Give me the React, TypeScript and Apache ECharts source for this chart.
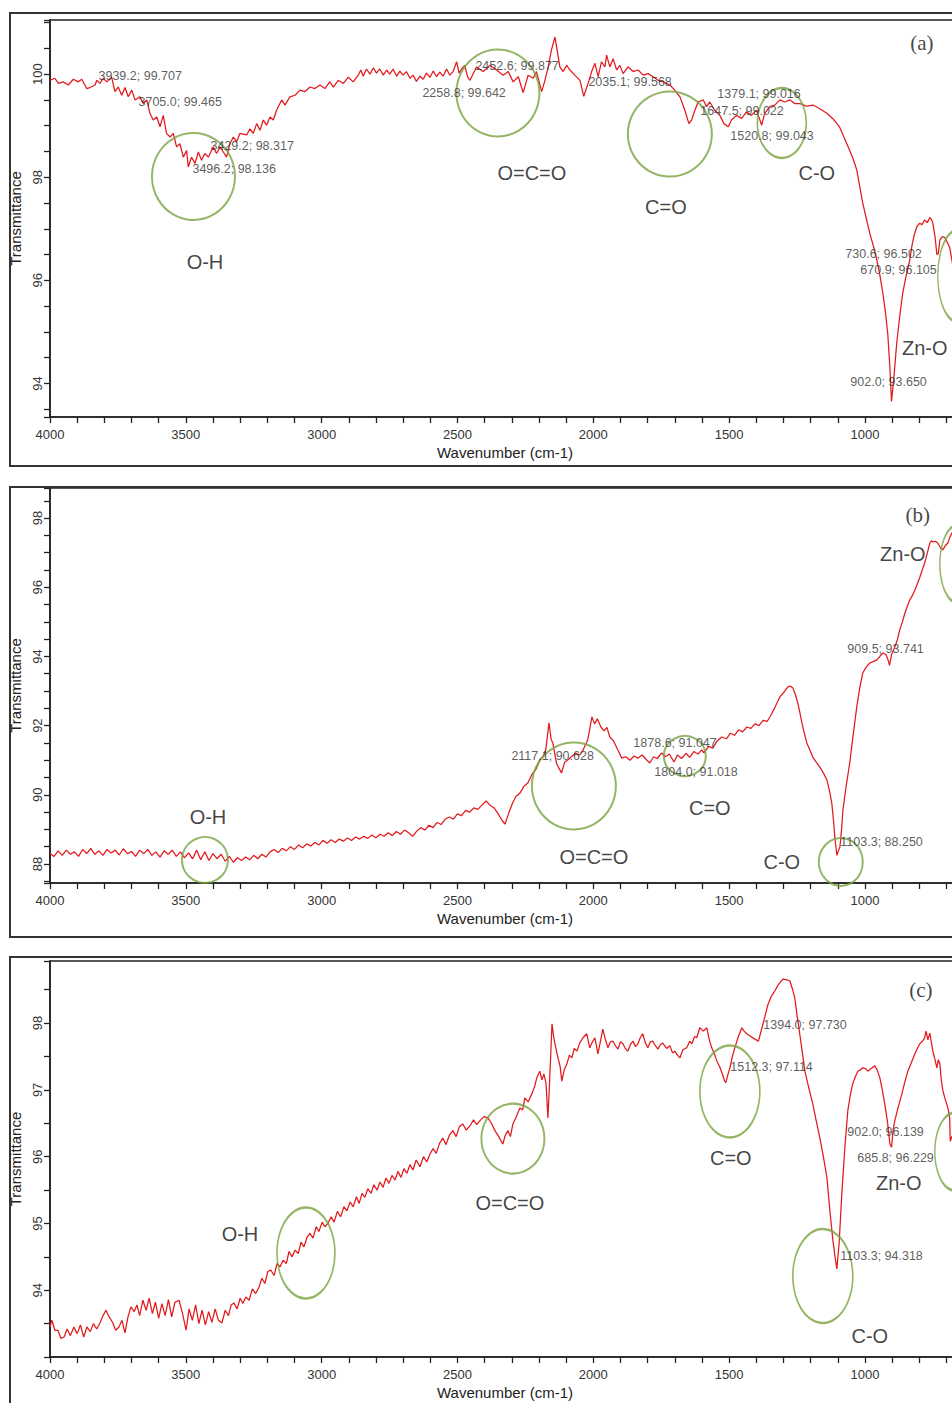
import React, { useEffect, useRef } from "react";
import * as echarts from "echarts";

// ---------- data: [wavenumber (cm-1), transmittance (%)] ----------
const spectrumA: number[][] = [
  [4000, 99.88], [3982, 99.92], [3969, 99.82], [3951, 99.85], [3933, 99.79], [3914, 99.9], [3896, 99.85], [3883, 99.9],
  [3865, 99.72], [3853, 99.74], [3834, 99.79], [3828, 99.88], [3816, 99.82], [3804, 99.92], [3791, 99.85], [3773, 99.94],
  [3761, 99.66], [3749, 99.75], [3736, 99.59], [3724, 99.74], [3712, 99.56], [3699, 99.69], [3687, 99.5], [3669, 99.56],
  [3657, 99.43], [3644, 99.5], [3632, 99.24], [3620, 99.11], [3607, 99.17], [3595, 98.98], [3583, 99.2], [3571, 98.85],
  [3558, 98.78], [3546, 98.85], [3534, 98.59], [3522, 98.65], [3509, 98.39], [3497, 98.52], [3491, 98.2], [3479, 98.39],
  [3466, 98.27], [3454, 98.49], [3442, 98.33], [3430, 98.46], [3417, 98.39], [3399, 98.59], [3387, 98.46], [3374, 98.59],
  [3362, 98.49], [3350, 98.39], [3338, 98.65], [3325, 98.78], [3313, 98.69], [3301, 98.85], [3276, 98.82], [3264, 98.94],
  [3252, 98.85], [3239, 99.04], [3227, 98.91], [3215, 99.11], [3203, 99.01], [3190, 99.17], [3178, 99.11], [3166, 99.3],
  [3147, 99.5], [3135, 99.4], [3117, 99.56], [3098, 99.59], [3080, 99.69], [3062, 99.66], [3043, 99.75], [3025, 99.72],
  [3006, 99.79], [2988, 99.72], [2970, 99.85], [2957, 99.75], [2939, 99.88], [2920, 99.82], [2902, 99.94], [2884, 99.85],
  [2865, 99.98], [2856, 100.08], [2847, 99.96], [2835, 100.1], [2822, 100.0], [2810, 100.12], [2798, 100.02], [2786, 100.1],
  [2773, 99.98], [2761, 100.08], [2749, 100.0], [2737, 100.1], [2724, 99.96], [2712, 100.06], [2700, 99.98], [2688, 100.05],
  [2675, 99.92], [2663, 99.98], [2651, 99.86], [2638, 99.96], [2626, 99.9], [2614, 100.02], [2601, 99.94], [2589, 100.06],
  [2577, 99.95], [2565, 100.04], [2553, 99.96], [2540, 100.1], [2528, 99.98], [2516, 100.05], [2503, 100.24], [2494, 100.02],
  [2485, 100.1], [2473, 100.17], [2463, 99.95], [2454, 99.88], [2430, 100.14], [2405, 100.05], [2381, 100.17], [2356, 100.08],
  [2332, 99.98], [2313, 100.05], [2295, 99.85], [2276, 99.95], [2258, 99.64], [2240, 99.98], [2221, 99.92], [2209, 100.05],
  [2190, 99.66], [2178, 99.88], [2166, 100.14], [2154, 100.47], [2141, 100.72], [2135, 100.53], [2123, 100.14], [2111, 100.05],
  [2098, 100.17], [2086, 100.08], [2068, 99.98], [2049, 99.88], [2035, 99.57], [2019, 99.82], [2006, 100.05], [1994, 100.21],
  [1982, 99.95], [1970, 100.24], [1957, 100.14], [1951, 100.37], [1939, 100.14], [1927, 100.3], [1914, 100.08], [1902, 100.17],
  [1890, 100.01], [1872, 100.14], [1853, 100.05], [1835, 100.08], [1816, 99.98], [1798, 100.01], [1780, 99.95], [1761, 99.88],
  [1743, 99.85], [1718, 99.79], [1700, 99.69], [1681, 99.56], [1663, 99.3], [1648, 99.04], [1638, 99.11], [1626, 99.3],
  [1614, 99.46], [1595, 99.5], [1583, 99.37], [1571, 99.46], [1553, 99.3], [1534, 99.2], [1519, 99.04], [1503, 98.98],
  [1491, 99.11], [1473, 99.2], [1454, 99.14], [1436, 99.27], [1418, 99.2], [1399, 99.3], [1380, 99.01], [1369, 99.24],
  [1350, 99.37], [1332, 99.4], [1313, 99.5], [1295, 99.46], [1276, 99.5], [1258, 99.43], [1240, 99.43], [1215, 99.38],
  [1191, 99.4], [1166, 99.33], [1140, 99.24], [1115, 99.12], [1093, 98.97], [1075, 98.75], [1056, 98.52], [1043, 98.35],
  [1030, 98.14], [1020, 97.85], [1008, 97.5], [995, 97.2], [982, 96.91], [968, 96.65], [956, 96.39], [945, 96.1],
  [934, 95.75], [925, 95.4], [916, 94.97], [908, 94.3], [902, 93.65], [892, 94.2], [883, 94.78], [872, 95.3],
  [861, 95.75], [848, 96.1], [835, 96.39], [826, 96.7], [817, 96.91], [808, 97.05], [798, 97.11], [790, 97.08],
  [780, 97.17], [770, 97.12], [761, 97.22], [755, 97.18], [750, 97.11], [742, 96.85], [735, 96.5], [730, 96.52],
  [724, 96.78], [715, 96.85], [706, 96.83], [698, 96.75], [688, 96.64], [680, 96.4], [671, 96.1], [660, 96.2], [650, 96.35],
];

const spectrumB: number[][] = [
  [4000, 88.3], [3985, 88.22], [3970, 88.38], [3955, 88.25], [3940, 88.4], [3925, 88.28], [3910, 88.35], [3895, 88.22],
  [3880, 88.42], [3865, 88.3], [3850, 88.45], [3835, 88.28], [3820, 88.38], [3805, 88.25], [3790, 88.42], [3775, 88.32],
  [3760, 88.4], [3745, 88.26], [3730, 88.44], [3715, 88.3], [3700, 88.36], [3685, 88.22], [3670, 88.4], [3655, 88.3],
  [3640, 88.42], [3625, 88.25], [3610, 88.35], [3595, 88.2], [3580, 88.38], [3565, 88.28], [3550, 88.4], [3535, 88.22],
  [3520, 88.35], [3505, 88.18], [3490, 88.32], [3475, 88.15], [3460, 88.4], [3445, 88.12], [3430, 88.35], [3415, 88.1],
  [3400, 88.3], [3385, 88.15], [3370, 88.28], [3355, 88.08], [3340, 88.22], [3325, 88.05], [3310, 88.18], [3295, 88.1],
  [3280, 88.2], [3265, 88.12], [3250, 88.25], [3235, 88.15], [3220, 88.28], [3205, 88.2], [3190, 88.35], [3175, 88.42],
  [3160, 88.33], [3145, 88.45], [3130, 88.38], [3115, 88.5], [3100, 88.42], [3085, 88.55], [3070, 88.47], [3055, 88.58],
  [3040, 88.52], [3025, 88.62], [3010, 88.55], [2995, 88.68], [2980, 88.6], [2965, 88.7], [2950, 88.62], [2935, 88.72],
  [2920, 88.66], [2905, 88.75], [2890, 88.68], [2875, 88.78], [2860, 88.72], [2845, 88.8], [2830, 88.74], [2815, 88.84],
  [2800, 88.76], [2785, 88.86], [2770, 88.8], [2755, 88.9], [2740, 88.82], [2725, 88.94], [2710, 88.86], [2695, 88.98],
  [2680, 88.9], [2665, 88.8], [2650, 88.95], [2635, 89.05], [2620, 88.98], [2605, 89.12], [2590, 89.05], [2575, 89.2],
  [2560, 89.14], [2545, 89.3], [2530, 89.36], [2515, 89.3], [2500, 89.45], [2485, 89.4], [2470, 89.55], [2455, 89.5],
  [2440, 89.62], [2425, 89.58], [2410, 89.7], [2395, 89.82], [2380, 89.7], [2365, 89.62], [2350, 89.45], [2335, 89.25],
  [2325, 89.15], [2310, 89.5], [2295, 89.8], [2285, 89.95], [2270, 90.05], [2255, 90.25], [2241, 90.34], [2225, 90.6],
  [2210, 90.75], [2197, 91.01], [2185, 91.1], [2175, 91.3], [2163, 92.08], [2155, 91.6], [2149, 91.5], [2135, 90.9],
  [2125, 90.75], [2117, 90.63], [2105, 90.95], [2095, 91.0], [2082, 91.09], [2065, 91.2], [2050, 91.15], [2038, 91.29],
  [2020, 91.6], [2005, 92.25], [1995, 92.05], [1985, 92.2], [1972, 91.96], [1960, 91.85], [1950, 91.95], [1939, 91.67],
  [1925, 91.55], [1910, 91.3], [1895, 91.06], [1880, 91.1], [1865, 91.0], [1850, 91.12], [1836, 91.06], [1820, 91.15],
  [1805, 91.02], [1792, 90.92], [1778, 91.1], [1765, 91.05], [1748, 91.21], [1735, 91.1], [1720, 91.18], [1703, 90.95],
  [1690, 91.15], [1675, 91.05], [1659, 91.2], [1645, 91.08], [1630, 91.25], [1615, 91.18], [1600, 91.3], [1593, 91.21],
  [1575, 91.4], [1560, 91.35], [1545, 91.55], [1527, 91.67], [1510, 91.62], [1495, 91.78], [1480, 91.72], [1465, 91.88],
  [1450, 91.82], [1435, 91.96], [1420, 91.92], [1405, 92.05], [1390, 92.0], [1375, 92.15], [1360, 92.12], [1346, 92.3],
  [1330, 92.55], [1313, 92.83], [1300, 92.95], [1284, 93.12], [1274, 93.14], [1265, 93.09], [1256, 92.9], [1247, 92.65],
  [1240, 92.4], [1232, 92.08], [1222, 91.75], [1214, 91.5], [1203, 91.3], [1192, 91.09], [1180, 90.95], [1166, 90.8],
  [1152, 90.62], [1140, 90.43], [1130, 90.1], [1122, 89.76], [1115, 89.2], [1111, 88.78], [1103.3, 88.25], [1097, 88.4],
  [1092, 88.49], [1086, 89.0], [1081, 89.56], [1070, 90.2], [1056, 90.92], [1043, 91.75], [1030, 92.54], [1019, 93.1],
  [1008, 93.52], [995, 93.7], [982, 93.81], [970, 93.85], [956, 93.9], [945, 94.0], [934, 94.1], [922, 94.05],
  [915, 93.9], [909.5, 93.74], [902, 94.05], [890, 94.27], [880, 94.5], [872, 94.76], [862, 95.0], [853, 95.25],
  [844, 95.45], [835, 95.63], [826, 95.75], [816, 95.92], [807, 96.1], [798, 96.29], [789, 96.5], [780, 96.7],
  [770, 97.0], [761, 97.28], [755, 97.35], [750, 97.31], [741, 97.33], [732, 97.28], [722, 97.15], [713, 97.08],
  [704, 97.2], [695, 97.28], [687, 97.45], [680, 97.57], [670, 97.62], [660, 97.7],
];

const spectrumC: number[][] = [
  [4000, 93.45], [3993, 93.55], [3982, 93.4], [3971, 93.4], [3960, 93.28], [3948, 93.3], [3937, 93.42], [3925, 93.32],
  [3912, 93.45], [3900, 93.35], [3888, 93.48], [3876, 93.3], [3864, 93.45], [3852, 93.38], [3840, 93.5], [3828, 93.42],
  [3816, 93.51], [3805, 93.62], [3794, 93.7], [3782, 93.6], [3770, 93.52], [3758, 93.4], [3746, 93.45], [3735, 93.55],
  [3724, 93.36], [3713, 93.6], [3702, 93.75], [3690, 93.68], [3680, 93.78], [3670, 93.62], [3658, 93.85], [3646, 93.7],
  [3635, 93.88], [3623, 93.65], [3612, 93.82], [3600, 93.58], [3588, 93.8], [3576, 93.62], [3564, 93.86], [3552, 93.6],
  [3540, 93.82], [3525, 93.85], [3512, 93.65], [3499, 93.4], [3488, 93.72], [3476, 93.55], [3464, 93.78], [3452, 93.5],
  [3440, 93.7], [3428, 93.48], [3416, 93.68], [3404, 93.52], [3392, 93.72], [3380, 93.55], [3367, 93.51], [3355, 93.7],
  [3343, 93.62], [3333, 93.78], [3323, 93.81], [3311, 93.72], [3300, 93.88], [3290, 93.8], [3279, 93.9], [3267, 93.85],
  [3255, 94.02], [3243, 93.95], [3231, 94.04], [3220, 94.18], [3209, 94.1], [3198, 94.28], [3187, 94.3], [3175, 94.22],
  [3164, 94.4], [3153, 94.35], [3142, 94.45], [3130, 94.4], [3120, 94.58], [3109, 94.5], [3098, 94.6], [3086, 94.55],
  [3076, 94.72], [3065, 94.65], [3054, 94.79], [3043, 94.85], [3032, 94.78], [3020, 94.95], [3010, 94.88], [2998, 95.02],
  [2988, 94.95], [2977, 95.0], [2965, 95.1], [2954, 95.02], [2942, 95.18], [2930, 95.1], [2918, 95.25], [2907, 95.19],
  [2895, 95.32], [2884, 95.25], [2872, 95.4], [2862, 95.3], [2851, 95.45], [2841, 95.39], [2830, 95.52], [2818, 95.45],
  [2808, 95.58], [2796, 95.5], [2785, 95.62], [2774, 95.54], [2763, 95.68], [2752, 95.6], [2741, 95.72], [2730, 95.65],
  [2719, 95.78], [2708, 95.69], [2697, 95.82], [2686, 95.75], [2675, 95.88], [2664, 95.8], [2652, 95.95], [2638, 95.85],
  [2625, 96.0], [2613, 95.92], [2601, 96.04], [2590, 96.12], [2578, 96.05], [2566, 96.2], [2554, 96.28], [2542, 96.18],
  [2530, 96.32], [2517, 96.39], [2505, 96.3], [2493, 96.45], [2480, 96.49], [2468, 96.4], [2454, 96.46], [2441, 96.55],
  [2429, 96.48], [2417, 96.54], [2402, 96.6], [2388, 96.58], [2375, 96.5], [2362, 96.39], [2348, 96.3], [2333, 96.19],
  [2324, 96.32], [2314, 96.39], [2305, 96.3], [2296, 96.49], [2283, 96.6], [2270, 96.73], [2260, 96.7], [2252, 96.88],
  [2240, 96.82], [2226, 96.94], [2216, 97.05], [2208, 97.18], [2197, 97.28], [2189, 97.15], [2182, 97.24], [2174, 97.1],
  [2167, 96.58], [2160, 97.2], [2152, 97.99], [2146, 97.8], [2141, 97.69], [2130, 97.48], [2122, 97.35], [2116, 97.13],
  [2107, 97.3], [2097, 97.39], [2088, 97.52], [2079, 97.48], [2070, 97.62], [2060, 97.58], [2050, 97.7], [2038, 97.78],
  [2024, 97.84], [2013, 97.63], [2003, 97.72], [1994, 97.78], [1983, 97.54], [1975, 97.7], [1965, 97.91], [1955, 97.75],
  [1946, 97.63], [1937, 97.72], [1928, 97.73], [1918, 97.66], [1909, 97.61], [1900, 97.72], [1891, 97.69], [1882, 97.62],
  [1873, 97.58], [1863, 97.68], [1854, 97.73], [1845, 97.65], [1836, 97.69], [1827, 97.78], [1818, 97.84], [1808, 97.7],
  [1799, 97.63], [1790, 97.72], [1781, 97.73], [1771, 97.66], [1762, 97.61], [1753, 97.68], [1744, 97.7], [1730, 97.62],
  [1718, 97.66], [1708, 97.55], [1700, 97.58], [1690, 97.52], [1681, 97.48], [1670, 97.6], [1656, 97.63], [1645, 97.73],
  [1637, 97.69], [1627, 97.8], [1619, 97.78], [1608, 97.93], [1595, 97.88], [1582, 97.93], [1573, 97.75], [1564, 97.63],
  [1555, 97.55], [1545, 97.43], [1535, 97.35], [1526, 97.25], [1516, 97.13], [1512, 97.11], [1505, 97.22], [1497, 97.33],
  [1488, 97.5], [1479, 97.63], [1466, 97.8], [1453, 97.93], [1445, 97.88], [1435, 97.84], [1420, 97.8], [1405, 97.76],
  [1392, 97.73], [1379, 97.93], [1368, 98.1], [1357, 98.28], [1345, 98.4], [1332, 98.48], [1318, 98.58], [1302, 98.66],
  [1290, 98.65], [1276, 98.63], [1266, 98.5], [1258, 98.37], [1250, 98.12], [1240, 97.84], [1230, 97.55], [1221, 97.28],
  [1206, 97.02], [1192, 96.79], [1180, 96.55], [1166, 96.28], [1153, 96.0], [1140, 95.69], [1129, 95.19], [1118, 94.75],
  [1110, 94.5], [1103.3, 94.32], [1095, 94.7], [1085, 95.45], [1074, 96.13], [1063, 96.69], [1054, 96.92], [1045, 97.09],
  [1035, 97.2], [1026, 97.28], [1017, 97.3], [1008, 97.33], [998, 97.32], [989, 97.28], [977, 97.32], [964, 97.36],
  [955, 97.3], [945, 97.18], [936, 97.0], [927, 96.79], [917, 96.52], [908, 96.19], [902, 96.14], [896, 96.4],
  [890, 96.54], [877, 96.75], [864, 96.94], [853, 97.12], [842, 97.28], [830, 97.4], [816, 97.54], [807, 97.62],
  [798, 97.69], [790, 97.72], [780, 97.78], [775, 97.88], [768, 97.75], [761, 97.85], [755, 97.7], [750, 97.58],
  [742, 97.45], [735, 97.33], [730, 97.45], [724, 97.39], [719, 97.15], [713, 96.99], [706, 96.88], [699, 96.79],
  [693, 96.7], [688, 96.58], [686, 96.23], [680, 96.3], [670, 96.35], [655, 96.5],
];

// axis ranges
const xRange = [650, 4000];
const yRangeA = [93.35, 101.05];
const yRangeB = [87.45, 98.87];
const yRangeC = [93.0, 98.93];

// band circles: [wavenumber, transmittance]
const circlesA: number[][] = [[3471.9, 98.015], [2351.1, 99.634], [1718.1, 98.839], [1305.9, 99.052], [658.1, 96.085]];
const circlesB: number[][] = [[3429.5, 88.115], [2071.4, 90.255], [1662.9, 91.122], [1088.7, 88.058], [658.1, 96.673]];
const circlesC: number[][] = [[3057.8, 94.557], [2295.9, 96.27], [1497.3, 96.977], [1155.0, 94.212], [669.1, 96.075]];
// band names
const bandNamesA = ["O-H", "O=C=O", "C=O", "C-O", "Zn-O"];
const bandPosA: number[][] = [[3429.5, 96.356], [2226.0, 98.083], [1732.8, 97.423], [1177.1, 98.083], [779.6, 94.689]];
const bandNamesB = ["O-H", "O=C=O", "C=O", "C-O", "Zn-O"];
const bandPosB: number[][] = [[3418.5, 89.359], [1997.8, 88.202], [1570.9, 89.619], [1305.9, 88.058], [860.5, 96.962]];
const bandNamesC = ["O-H", "O=C=O", "C=O", "C-O", "Zn-O"];
const bandPosC: number[][] = [[3300.7, 94.843], [2306.97, 95.309], [1493.6, 95.985], [981.99, 93.31], [875.3, 95.609]];
// peak labels
const peakTextA = ["3939.2; 99.707", "3705.0; 99.465", "3429.2; 98.317", "3496.2; 98.136", "2258.8; 99.642", "2452.6; 99.877",
  "2035.1; 99.568", "1379.1; 99.016", "1647.5; 99.022", "1520.8; 99.043", "730.6; 96.502", "670.9; 96.105", "902.0; 93.650"];
const peakPosA: number[][] = [[3823.3, 99.964], [3676.1, 99.46], [3411.1, 98.606], [3477.4, 98.16], [2630.9, 99.634], [2435.8, 100.158],
  [2019.9, 99.848], [1545.1, 99.615], [1607.7, 99.285], [1497.3, 98.8], [1074.0, 96.512], [1018.8, 96.201], [1055.6, 94.029]];
const peakTextB = ["909.5; 93.741", "2117.1; 90.628", "1878.6; 91.047", "1804.0; 91.018", "1103.3; 88.250"];
const peakPosB: number[][] = [[1066.6, 94.216], [2303.3, 91.122], [1854.3, 91.498], [1777.0, 90.66], [1092.4, 88.636]];
const peakTextC = ["1394.0; 97.730", "1512.3; 97.114", "902.0; 96.139", "685.8; 96.229", "1103.3; 94.318"];
const peakPosC: number[][] = [[1375.8, 97.968], [1497.3, 97.337], [1066.6, 96.376], [1029.8, 95.985], [1092.4, 94.512]];
const panelLetters = ["(a)", "(b)", "(c)"];
const letterPos: number[][] = [[790.6, 100.604], [805.3, 98.089], [794.3, 98.494]];

// ---------- styles / layout ----------
const RED = "#e3191c";
const GREEN = "#78a23f";
const AXIS = "#222";
const SANS = "'Liberation Sans', Arial, sans-serif";
const circleSizes = [
  [[83, 87], [83, 87], [84, 85], [49, 70], [40, 92]],
  [[46, 46], [84, 87], [42, 40], [44, 48], [36, 78]],
  [[58, 91], [63, 70], [60, 92], [60, 94], [40, 78]],
];
const grids = [
  { top: 20, height: 397 },
  { top: 488, height: 395 },
  { top: 961, height: 396 },
];
const yMinorSplit = [4, 4, 2];

function buildOption() {
  const spectra = [spectrumA, spectrumB, spectrumC];
  const yRanges = [yRangeA, yRangeB, yRangeC];
  const circles = [circlesA, circlesB, circlesC];
  const bandNames = [bandNamesA, bandNamesB, bandNamesC];
  const bandPos = [bandPosA, bandPosB, bandPosC];
  const peakTexts = [peakTextA, peakTextB, peakTextC];
  const peakPos = [peakPosA, peakPosB, peakPosC];

  const tickStyle = { color: AXIS, width: 1.3 };
  const series: any[] = [];
  for (let i = 0; i < 3; i++) {
    series.push({
      type: "line",
      xAxisIndex: i,
      yAxisIndex: i,
      data: spectra[i],
      showSymbol: false,
      symbol: "none",
      silent: true,
      lineStyle: { color: RED, width: 1.25 },
      z: 3,
    });
    series.push({
      type: "scatter",
      xAxisIndex: i,
      yAxisIndex: i,
      silent: true,
      symbol: "circle",
      data: circles[i].map((c, k) => ({ value: c, symbolSize: circleSizes[i][k] })),
      itemStyle: { color: "rgba(0,0,0,0)", borderColor: GREEN, borderWidth: 2 },
      z: 4,
    });
    series.push({
      type: "scatter",
      xAxisIndex: i,
      yAxisIndex: i,
      silent: true,
      symbolSize: 1,
      data: bandPos[i].map((p, k) => ({ name: bandNames[i][k], value: p })),
      itemStyle: { color: "rgba(0,0,0,0)" },
      label: { show: true, position: "inside", formatter: "{b}", fontSize: 20, color: "#111", fontFamily: SANS },
      z: 5,
    });
    series.push({
      type: "scatter",
      xAxisIndex: i,
      yAxisIndex: i,
      silent: true,
      symbolSize: 1,
      data: peakPos[i].map((p, k) => ({ name: peakTexts[i][k], value: p })),
      itemStyle: { color: "rgba(0,0,0,0)" },
      label: { show: true, position: "right", distance: 0, formatter: "{b}", fontSize: 12.5, color: "#333", fontFamily: SANS },
      z: 5,
    });
    series.push({
      type: "scatter",
      xAxisIndex: i,
      yAxisIndex: i,
      silent: true,
      symbolSize: 1,
      data: [{ name: panelLetters[i], value: letterPos[i] }],
      itemStyle: { color: "rgba(0,0,0,0)" },
      label: { show: true, position: "inside", formatter: "{b}", fontSize: 21, color: "#111", fontFamily: "'Liberation Serif', 'Times New Roman', serif" },
      z: 5,
    });
  }

  return {
    animation: false,
    backgroundColor: "#ffffff",
    grid: grids.map((g) => ({
      left: 50,
      width: 910,
      top: g.top,
      height: g.height,
      show: true,
      borderColor: AXIS,
      borderWidth: 1.6,
      backgroundColor: "transparent",
      containLabel: false,
      outerBoundsMode: "none",
    })),
    xAxis: grids.map((_, i) => ({
      type: "value",
      gridIndex: i,
      min: xRange[0],
      max: xRange[1],
      inverse: true,
      splitLine: { show: false },
      axisLine: { show: true, onZero: false, lineStyle: { color: AXIS, width: 1.6 } },
      axisTick: { show: true, inside: false, length: 6, lineStyle: tickStyle },
      minorTick: { show: true, splitNumber: 5, length: 6, lineStyle: tickStyle },
      axisLabel: {
        show: true, margin: 11, fontSize: 13, color: "#333", fontFamily: SANS,
        showMinLabel: false, showMaxLabel: true,
        formatter: (v: number) => String(v),
      },
      name: "Wavenumber (cm-1)",
      nameLocation: "middle",
      nameGap: 28,
      nameTextStyle: { fontSize: 15, color: "#222", fontFamily: SANS },
    })),
    yAxis: grids.map((_, i) => ({
      type: "value",
      gridIndex: i,
      min: yRanges[i][0],
      max: yRanges[i][1],
      splitLine: { show: false },
      axisLine: { show: true, onZero: false, lineStyle: { color: AXIS, width: 1.6 } },
      axisTick: { show: true, inside: false, length: 6, lineStyle: tickStyle },
      minorTick: { show: true, splitNumber: yMinorSplit[i], length: 6, lineStyle: tickStyle },
      axisLabel: {
        show: true, rotate: 90, margin: 6, fontSize: 13, color: "#333", fontFamily: SANS,
        showMinLabel: false, showMaxLabel: false,
        formatter: (v: number) => String(v),
      },
      name: "Transmittance",
      nameLocation: "middle",
      nameGap: 24,
      nameTextStyle: { fontSize: 15, color: "#222", fontFamily: SANS },
    })),
    graphic: [
      { type: "rect", silent: true, shape: { x: 10, y: 13, width: 1000, height: 453 }, style: { fill: "none", stroke: "#333", lineWidth: 2 } },
      { type: "rect", silent: true, shape: { x: 10, y: 487, width: 1000, height: 450 }, style: { fill: "none", stroke: "#333", lineWidth: 2 } },
      { type: "rect", silent: true, shape: { x: 10, y: 957, width: 1000, height: 480 }, style: { fill: "none", stroke: "#333", lineWidth: 2 } },
    ],
    series,
  };
}

export default function App() {
  const ref = useRef<HTMLDivElement>(null);
  useEffect(() => {
    if (!ref.current) return;
    const chart = echarts.init(ref.current, undefined, { renderer: "svg" });
    chart.setOption(buildOption() as any);
    return () => chart.dispose();
  }, []);
  return (
    <div style={{ position: "fixed", left: 0, top: 0, width: 952, height: 1403, overflow: "hidden", background: "#fff" }}>
      <div ref={ref} style={{ width: 1000, height: 1420 }} />
    </div>
  );
}
